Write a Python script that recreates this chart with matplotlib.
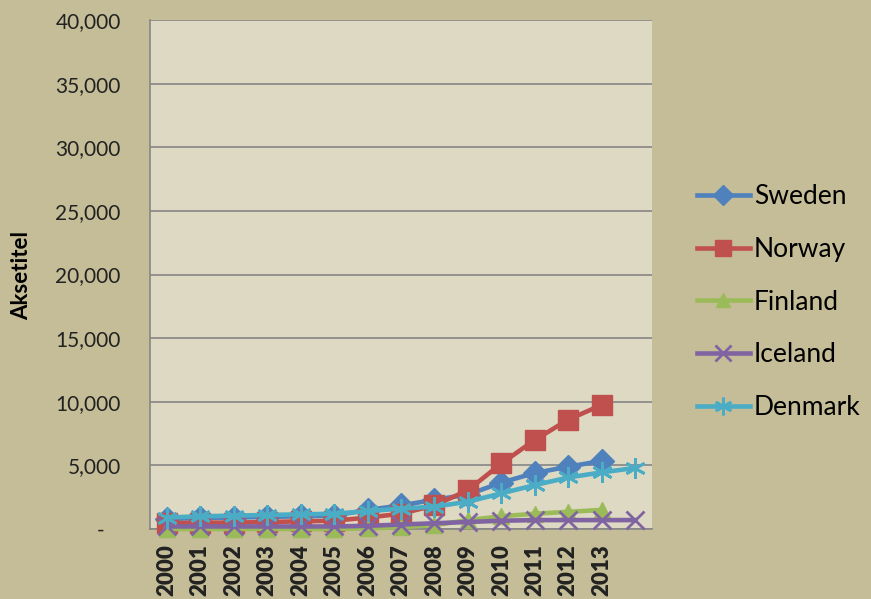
import matplotlib
matplotlib.use('Agg')
import matplotlib.pyplot as plt
from matplotlib.ticker import FuncFormatter

# data
years = ['2000', '2001', '2002', '2003', '2004', '2005', '2006',
         '2007', '2008', '2009', '2010', '2011', '2012', '2013', '']
sweden = [800, 850, 900, 950, 1000, 1050, 1500, 1850, 2300, 2700, 3650, 4400, 4900, 5350]
norway = [450, 500, 500, 550, 600, 650, 900, 1200, 1850, 3050, 5150, 7000, 8600, 9750]
finland = [0, 0, 0, 0, 0, 0, 50, 150, 300, 700, 1000, 1200, 1350, 1500]
iceland = [200, 200, 200, 200, 200, 200, 250, 350, 450, 550, 650, 700, 700, 700, 700]
denmark = [900, 1000, 1050, 1100, 1150, 1200, 1400, 1600, 1750, 2150, 2800, 3450, 4050, 4450, 4800]

plt.rcParams['font.family'] = ['Lato', 'DejaVu Sans']

bg = '#C4BD97'
plot_bg = '#DDD9C3'

fig = plt.figure(figsize=(8.71, 5.99), dpi=100, facecolor=bg)
ax = fig.add_axes([150 / 871, 1 - 529 / 599, 502 / 871, 509 / 599])
ax.set_facecolor(plot_bg)

series = [
    ('Sweden', sweden, '#4F81BD', 'D', 12, 1),
    ('Norway', norway, '#C0504D', 's', 14, 1),
    ('Finland', finland, '#9BBB59', '^', 12, 1),
    ('Iceland', iceland, '#8064A2', 'x', 13, 2),
    ('Denmark', denmark, '#4BACC6', (6, 2, 0), 15, 2),
]
for name, vals, col, mk, ms, mew in series:
    xs = list(range(len(vals)))
    ax.plot(xs, vals, color=col, lw=3.3, marker=mk, markersize=ms,
            markeredgewidth=mew, markeredgecolor=col, markerfacecolor=col,
            label=name, clip_on=False, zorder=3)

ax.set_xlim(-0.5, len(years) - 0.5)
ax.set_ylim(0, 40000)
ax.set_yticks(range(0, 40001, 5000))
ax.yaxis.set_major_formatter(FuncFormatter(lambda v, p: '-   ' if v == 0 else f'{int(v):,}'))
ax.set_xticks(range(len(years)))
ax.set_xticklabels(years, rotation=90, fontweight='heavy', fontsize=16)
ax.tick_params(axis='both', length=0, colors='#222222')
ax.tick_params(axis='y', labelsize=15, pad=21)
ax.tick_params(axis='x', pad=11)

ax.grid(axis='y', color='#868686', lw=1.2, zorder=1)
ax.set_axisbelow(True)
for s in ['top', 'right']:
    ax.spines[s].set_visible(False)
ax.spines['left'].set_color('#868686')
ax.spines['bottom'].set_color('#868686')
ax.spines['left'].set_linewidth(1.2)
ax.spines['bottom'].set_linewidth(1.2)

fig.text(22 / 871, 1 - 276 / 599, 'Aksetitel', rotation=90, fontweight='bold',
         fontsize=16, ha='center', va='center')

fig.legend(loc='center left', bbox_to_anchor=(697 / 871, 1 - 302 / 599),
           frameon=False, fontsize=19, handlelength=2.0, handletextpad=0.15,
           labelspacing=1.05, borderaxespad=0, borderpad=0, markerscale=0.85)

fig.savefig('out.png', dpi=100, facecolor=bg)
